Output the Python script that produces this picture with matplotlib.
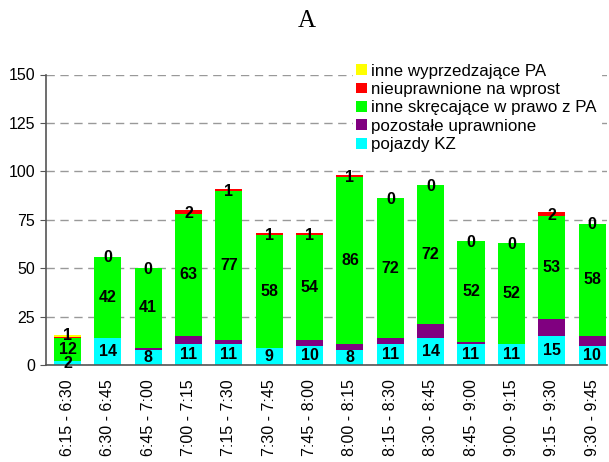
import matplotlib
matplotlib.use("Agg")
import matplotlib.pyplot as plt
import numpy as np

plt.rcParams['font.family'] = ['Liberation Sans', 'DejaVu Sans']

# przedziały czasowe
intervals = ["6:15 - 6:30", "6:30 - 6:45", "6:45 - 7:00", "7:00 - 7:15",
             "7:15 - 7:30", "7:30 - 7:45", "7:45 - 8:00", "8:00 - 8:15",
             "8:15 - 8:30", "8:30 - 8:45", "8:45 - 9:00", "9:00 - 9:15",
             "9:15 - 9:30", "9:30 - 9:45"]

pojazdy_kz = [2, 14, 8, 11, 11, 9, 10, 8, 11, 14, 11, 11, 15, 10]
pozostale = [0, 0, 1, 4, 2, 0, 3, 3, 3, 7, 1, 0, 9, 5]
skrecajace = [12, 42, 41, 63, 77, 58, 54, 86, 72, 72, 52, 52, 53, 58]
nieuprawnione = [0.5, 0, 0, 2, 1, 1, 1, 1, 0, 0, 0, 0, 2, 0]
wyprzedzajace = [1, 0, 0, 0, 0, 0, 0, 0, 0, 0, 0, 0, 0, 0]

series = [
    ("pojazdy KZ", pojazdy_kz, "#00FFFF"),
    ("pozostałe uprawnione", pozostale, "#800080"),
    ("inne skręcające w prawo z PA", skrecajace, "#00FF00"),
    ("nieuprawnione na wprost", nieuprawnione, "#FF0000"),
    ("inne wyprzedzające PA", wyprzedzajace, "#FFFF00"),
]

fig = plt.figure(figsize=(6.09, 4.62), dpi=100)
ax = fig.add_axes([46 / 609, 97 / 462, 561 / 609, 290.5 / 462])

x = np.arange(len(intervals))
bottom = np.zeros(len(intervals))
for name, vals, color in series:
    vals = np.array(vals, dtype=float)
    ax.bar(x, vals, 0.67, bottom=bottom, color=color, label=name, zorder=2)
    bottom = bottom + vals

# etykiety wartości na słupkach
lab = dict(ha="center", va="center", fontsize=11.5, fontweight="bold", zorder=3)
for i in range(len(intervals)):
    ax.text(x[i], pojazdy_kz[i] / 2, str(pojazdy_kz[i]), **lab)
    base = pojazdy_kz[i] + pozostale[i]
    ax.text(x[i], base + skrecajace[i] / 2, str(skrecajace[i]), **lab)
    top = base + skrecajace[i]
    if wyprzedzajace[i] > 0:
        y = top + nieuprawnione[i] + wyprzedzajace[i] / 2
        ax.text(x[i], y, str(wyprzedzajace[i]), **lab)
    else:
        ax.text(x[i], top + nieuprawnione[i] / 2 - 0.7, str(int(nieuprawnione[i])), **lab)

ax.set_ylim(0, 150)
ax.set_xlim(-0.533, 13.37)
ax.set_yticks(np.arange(0, 151, 25))
ax.set_xticks(x)
ax.set_xticklabels(intervals, rotation=90, fontsize=11.5)
ax.tick_params(axis="y", labelsize=11.5, length=4, color="#555555", pad=4)
ax.tick_params(axis="x", length=0, pad=10)
ax.yaxis.grid(True, linestyle=(0, (6, 4)), color="#999999", linewidth=1, zorder=0)
ax.set_axisbelow(True)
for s in ["top", "right"]:
    ax.spines[s].set_visible(False)
ax.spines["left"].set_color("#555555")
ax.spines["bottom"].set_color("#555555")
ax.spines["left"].set_linewidth(1.2)
ax.spines["bottom"].set_linewidth(1.2)

handles, labels = ax.get_legend_handles_labels()
leg = fig.legend(handles[::-1], labels[::-1], loc="upper left",
                 bbox_to_anchor=(353 / 609, 1 - 61 / 462), frameon=True,
                 fontsize=12.2, handlelength=0.65, handleheight=0.6,
                 handletextpad=0.25, labelspacing=0.2, borderpad=0.15,
                 borderaxespad=0)
leg.get_frame().set_edgecolor("white")
leg.get_frame().set_facecolor("white")
leg.get_frame().set_alpha(1)
leg.get_frame().set_boxstyle("square", pad=0)

fig.text(307 / 609, 1 - 21 / 462, "A", ha="center", va="center",
         fontsize=18, family="Liberation Serif")

fig.savefig("out.png", dpi=100)
